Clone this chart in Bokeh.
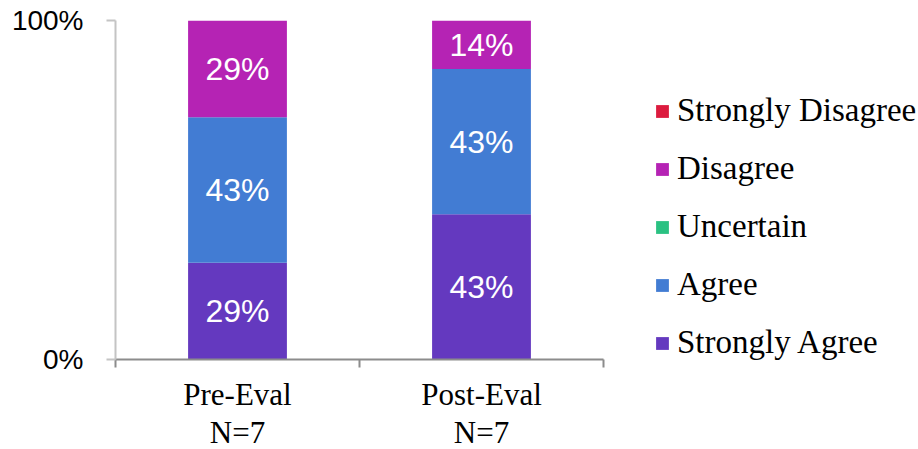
from bokeh.plotting import figure
from bokeh.models import (Range1d, FixedTicker, Legend, LegendItem, ColumnDataSource)
from bokeh.core.properties import value
from bokeh.embed import file_html
from bokeh.resources import INLINE

# Survey responses (counts out of N) for each evaluation
groups = ["Pre-Eval", "Post-Eval"]
n_respondents = [7, 7]
responses = ["Strongly Agree", "Agree", "Uncertain", "Disagree", "Strongly Disagree"]
counts = {
    "Strongly Agree":    [2, 3],
    "Agree":             [3, 3],
    "Uncertain":         [0, 0],
    "Disagree":          [2, 1],
    "Strongly Disagree": [0, 0],
}
colors = {
    "Strongly Agree":    "#6439bf",
    "Agree":             "#427cd3",
    "Uncertain":         "#2ac182",
    "Disagree":          "#b523b4",
    "Strongly Disagree": "#dc1b3e",
}
y_ticks = [0, 100]
y_tick_labels = ["0%", "100%"]

xpos = [i + 0.5 for i in range(len(groups))]
tick_labels = {x: f"{g}\nN={n}" for x, g, n in zip(xpos, groups, n_respondents)}

p = figure(frame_width=488, frame_height=339, output_backend="svg", toolbar_location=None,
           x_range=Range1d(0, len(groups)), y_range=Range1d(0, 100),
           min_border_left=115, min_border_right=315, min_border_top=20,
           min_border_bottom=90, background_fill_color="white",
           border_fill_color="white")
p.outline_line_color = None
p.xgrid.grid_line_color = None
p.ygrid.ticker = FixedTicker(ticks=[100])
p.ygrid.grid_line_color = "#8c8c8c"
p.ygrid.grid_line_width = 2

# stacked bars
bottoms = [0.0] * len(groups)
renderers = {}
for r in responses:
    pct = [c / n * 100 for c, n in zip(counts[r], n_respondents)]
    tops = [b + v for b, v in zip(bottoms, pct)]
    src = ColumnDataSource(dict(x=xpos, bottom=bottoms, top=tops, pct=pct,
                                mid=[(b + t) / 2 for b, t in zip(bottoms, tops)],
                                label=[f"{round(v)}%" if v > 0 else "" for v in pct]))
    renderers[r] = p.vbar(x="x", bottom="bottom", top="top", width=0.405,
                          source=src, fill_color=colors[r], line_color=None)
    p.text(x="x", y="mid", text="label", source=src, text_color="white",
           text_font=value("Liberation Sans"), text_font_size="32px",
           text_align="center", text_baseline="middle")
    bottoms = tops

# axes
xa = p.xaxis[0]
xa.ticker = FixedTicker(ticks=xpos, minor_ticks=[0, 1, 2])
xa.major_label_overrides = tick_labels
xa.major_label_text_font = "Liberation Serif"
xa.major_label_text_font_size = "31px"
xa.major_label_text_line_height = 1.1
xa.major_label_text_color = "black"
xa.major_label_standoff = 9
xa.major_tick_out = 0
xa.major_tick_in = 0
xa.minor_tick_out = 8
xa.minor_tick_in = 0
xa.minor_tick_line_color = "#8c8c8c"
xa.minor_tick_line_width = 2
xa.axis_line_color = "#8c8c8c"
xa.axis_line_width = 2

ya = p.yaxis[0]
ya.ticker = FixedTicker(ticks=y_ticks, minor_ticks=[])
ya.major_label_overrides = dict(zip(y_ticks, y_tick_labels))
ya.major_label_text_font = "Liberation Sans"
ya.major_label_text_font_size = "28px"
ya.major_label_text_color = "black"
ya.major_label_standoff = 23
ya.major_tick_out = 9
ya.major_tick_in = 0
ya.major_tick_line_color = "#c4c4c4"
ya.major_tick_line_width = 2
ya.axis_line_color = "#c4c4c4"
ya.axis_line_width = 2

legend = Legend(items=[LegendItem(label=r, renderers=[renderers[r]])
                       for r in reversed(responses)],
                location=(51, -2), orientation="vertical",
                label_text_font="Liberation Serif", label_text_font_size="33px",
                label_text_color="black", glyph_width=16, glyph_height=16,
                label_standoff=7, spacing=21, padding=0, margin=0,
                border_line_color=None, background_fill_alpha=0)
p.add_layout(legend, "right")

open("out.html", "w").write(file_html(p, INLINE))
